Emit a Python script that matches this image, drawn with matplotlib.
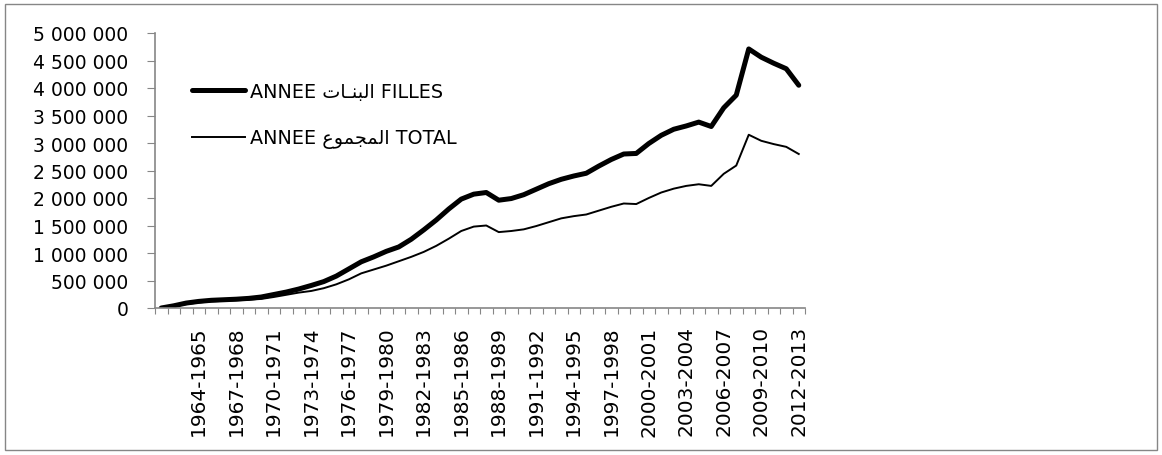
import matplotlib
matplotlib.use('Agg')
import matplotlib.pyplot as plt
import numpy as np
from matplotlib.patches import Rectangle
from matplotlib.ticker import FuncFormatter

# school years 1961-1962 .. 2012-2013
years = [f"{y}-{y + 1}" for y in range(1961, 2013)]

# values in millions
filles = [0.00, 0.04, 0.09, 0.12, 0.14, 0.15, 0.16, 0.175, 0.20, 0.245, 0.29,
          0.345, 0.41, 0.48, 0.58, 0.71, 0.84, 0.93, 1.03, 1.11, 1.25,
          1.42, 1.60, 1.80, 1.98, 2.07, 2.10, 1.96, 1.99, 2.06, 2.16,
          2.26, 2.34, 2.40, 2.45, 2.58, 2.70, 2.80, 2.81, 2.99, 3.14,
          3.25, 3.31, 3.38, 3.30, 3.64, 3.87, 4.71, 4.56, 4.45, 4.35, 4.05]
total = [0.00, 0.03, 0.07, 0.10, 0.12, 0.13, 0.14, 0.15, 0.165, 0.20, 0.24,
         0.28, 0.31, 0.36, 0.43, 0.52, 0.63, 0.70, 0.77, 0.85, 0.93,
         1.02, 1.13, 1.26, 1.40, 1.48, 1.50, 1.38, 1.40, 1.43, 1.49,
         1.56, 1.63, 1.67, 1.70, 1.77, 1.84, 1.90, 1.89, 2.00, 2.10,
         2.17, 2.22, 2.25, 2.22, 2.44, 2.59, 3.15, 3.04, 2.98, 2.93, 2.80]

# arabic written in presentation forms, visual order
lab_filles = 'ANNEE \uFE95\uFE8E\u0640\uFEE8\uFE92\uFEDF\uFE8D FILLES'
lab_total = 'ANNEE \uFEC9\uFEEE\uFEE4\uFEA0\uFEE4\uFEDF\uFE8D TOTAL'

plt.rcParams['font.family'] = ['DejaVu Sans']
grey = '#868686'

fig = plt.figure(figsize=(11.62, 4.56), dpi=100)
fig.patches.append(Rectangle((5 / 1162, 5 / 456), 1152 / 1162, 446 / 456,
                             transform=fig.transFigure, fill=False,
                             ec=grey, lw=1))
ax = fig.add_axes([155 / 1162, 147 / 456, 650 / 1162, 275 / 456])

x = np.arange(len(years))
ax.plot(x, np.array(filles) * 1e6, color='black', lw=3.6,
        solid_joinstyle='round', solid_capstyle='round', label=lab_filles)
ax.plot(x, np.array(total) * 1e6, color='black', lw=1.4,
        solid_joinstyle='round', label=lab_total)

ax.set_xlim(-0.5, len(years) - 0.5)
ax.set_ylim(0, 5e6)
ax.set_yticks(np.arange(0, 5.01e6, 5e5))
ax.yaxis.set_major_formatter(FuncFormatter(lambda v, p: f'{v:,.0f}'.replace(',', ' ')))
ax.tick_params(axis='y', length=5.8, color=grey, pad=13.5, labelsize=13.5)

ax.set_xticks(np.arange(len(years) + 1) - 0.5)
ax.set_xticklabels([])
ax.tick_params(axis='x', which='major', length=4.5, color=grey)
idx = x[3::3]
ax.set_xticks(idx, [years[i] for i in idx], minor=True)
ax.tick_params(axis='x', which='minor', length=0, pad=12.5, labelsize=14.5,
               labelrotation=90)

for s in ['top', 'right']:
    ax.spines[s].set_visible(False)
for s in ['left', 'bottom']:
    ax.spines[s].set_color(grey)
    ax.spines[s].set_linewidth(1.2)

ax.legend(loc='upper left', bbox_to_anchor=(192 / 1162, 1 - 83 / 456),
          bbox_transform=fig.transFigure, frameon=False, fontsize=13.8,
          handlelength=2.76, handletextpad=0.25, labelspacing=1.42,
          borderpad=0, borderaxespad=0)

fig.savefig('out.png', dpi=100)
